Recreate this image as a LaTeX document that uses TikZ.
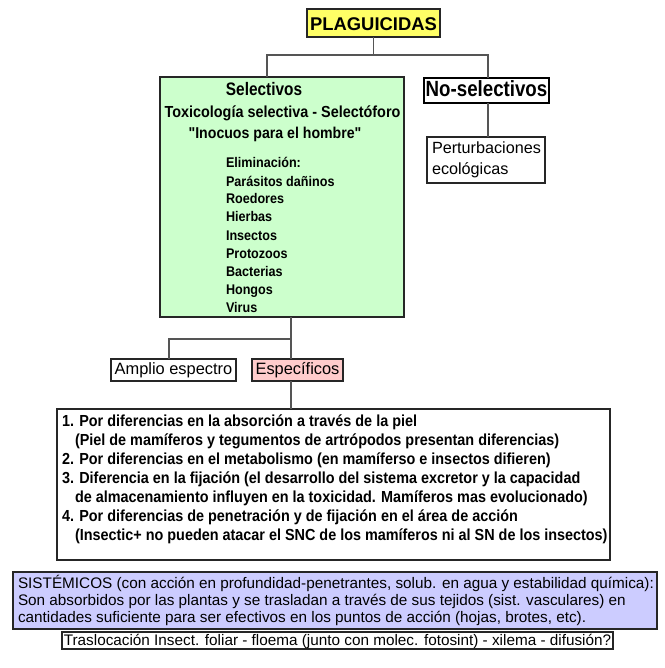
\documentclass[tikz,border=0pt]{standalone}
\usepackage{fontspec}
\setmainfont{Liberation Sans}
\newfontfamily\narr[FakeStretch=0.9]{Liberation Sans}
\newfontfamily\narrb[FakeStretch=0.85]{Liberation Sans}
\definecolor{cyel}{HTML}{FFFF66}
\definecolor{cgreen}{HTML}{CCFFCC}
\definecolor{cpink}{HTML}{FFCCCC}
\definecolor{clav}{HTML}{CCCCFF}
\definecolor{cline}{HTML}{555555}
\tikzset{
  box/.style={draw=black!85, line width=1.1pt, inner sep=0pt, outer sep=0pt},
  conn/.style={draw=cline, line width=1.3pt},
  txt/.style={inner sep=0pt, outer sep=0pt, text height=11pt, text depth=3pt},
  bnar/.style={txt, font=\narr\bfseries\fontsize{16}{19}\selectfont},
  lst/.style={txt, font=\narr\bfseries\fontsize{14}{17}\selectfont},
  reg/.style={txt, font=\fontsize{15.3}{17}\selectfont},
  lab/.style={txt, font=\fontsize{16.4}{19}\selectfont, text height=12pt, text depth=3.5pt},
}
\begin{document}
\begin{tikzpicture}[x=1pt,y=-1pt]
\useasboundingbox (0,0) rectangle (664,668);
% boxes
\node[box, fill=cyel, minimum width=133pt, minimum height=28pt] (plag) at (373.5,23) {};
\node[txt, font=\bfseries\fontsize{18.4}{21}\selectfont, text height=13pt, text depth=0pt] (plagt) at (373.5,24) {PLAGUICIDAS};
\node[box, fill=cgreen, minimum width=244pt, minimum height=240pt] (sel) at (282,197) {};
\node[txt, font=\narrb\bfseries\fontsize{18.1}{21}\selectfont, text height=13pt, text depth=4pt] (selt) at (264,91) {Selectivos};
\node[bnar] (tox) at (282.5,114) {Toxicología selectiva - Selectóforo};
\node[bnar, font=\narr\bfseries\fontsize{15.7}{19}\selectfont] (inoc) at (275,135) {"Inocuos para el hombre"};
\foreach \t [count=\i from 0] in {Eliminación:,Parásitos dañinos,Roedores,Hierbas,Insectos,Protozoos,Bacterias,Hongos,Virus}
  \node[lst, anchor=west] (el\i) at (226,164+18*\i) {\t};
\node[box, draw=black, minimum width=125pt, minimum height=25pt] (nosel) at (486.5,90.5) {};
\node[txt, font=\narrb\bfseries\fontsize{22}{25}\selectfont, text height=15.5pt, text depth=4.5pt] (noselt) at (486.5,91) {No-selectivos};
\node[box, minimum width=118pt, minimum height=46pt] (pert) at (486,160) {};
\node[lab, anchor=west, font=\fontsize{16.2}{19}\selectfont] (pert1) at (432,149) {Perturbaciones};
\node[lab, anchor=west, font=\fontsize{16.2}{19}\selectfont] (pert2) at (432,170) {ecológicas};
\node[box, minimum width=125pt, minimum height=22pt] (amp) at (173.5,370) {};
\node[lab] (ampt) at (173.5,370.5) {Amplio espectro};
\node[box, fill=cpink, minimum width=91pt, minimum height=22pt] (esp) at (297.5,370) {};
\node[lab] (espt) at (297.5,370.5) {Específicos};
\node[box, minimum width=553pt, minimum height=151pt] (big) at (333.5,484.5) {};
\node[bnar, anchor=west] (b1) at (62,422) {1. Por diferencias en la absorción a través de la piel};
\node[bnar, anchor=west] (b2) at (75,441) {(Piel de mamíferos y tegumentos de artrópodos presentan diferencias)};
\node[bnar, anchor=west] (b3) at (62,460) {2. Por diferencias en el metabolismo (en mamíferso e insectos difieren)};
\node[bnar, anchor=west] (b4) at (62,479) {3. Diferencia en la fijación (el desarrollo del sistema excretor y la capacidad};
\node[bnar, anchor=west] (b5) at (75,498) {de almacenamiento influyen en la toxicidad. Mamíferos mas evolucionado)};
\node[bnar, anchor=west] (b6) at (62,517) {4. Por diferencias de penetración y de fijación en el área de acción};
\node[bnar, anchor=west] (b7) at (75,536) {(Insectic+ no pueden atacar el SNC de los mamíferos ni al SN de los insectos)};
\node[box, fill=clav, minimum width=644pt, minimum height=57pt] (sist) at (335,600.5) {};
\node[reg, anchor=west] (s1) at (18,584) {SISTÉMICOS (con acción en profundidad-penetrantes, solub. en agua y estabilidad química):};
\node[reg, anchor=west] (s2) at (18,601) {Son absorbidos por las plantas y se trasladan a través de sus tejidos (sist. vasculares) en};
\node[reg, anchor=west] (s3) at (18,618) {cantidades suficiente para ser efectivos en los puntos de acción (hojas, brotes, etc).};
\node[box, fill=white, minimum width=551pt, minimum height=17pt] (tras) at (337.5,640.5) {};
\node[reg] (trast) at (337.5,641) {Traslocación Insect. foliar - floema (junto con molec. fotosint) - xilema - difusión?};
% connectors
\coordinate (j1) at (373.5,55);
\coordinate (j2) at (291,339);
\draw[conn] (plag.south) -- (j1);
\draw[conn] (j1) -| ([xshift=-15pt]sel.north);
\draw[conn] (j1) -| ([xshift=1.5pt]nosel.north);
\draw[conn] ([xshift=1.5pt]nosel.south) -- ([xshift=2pt]pert.north);
\draw[conn] ([xshift=9pt]sel.south) -- (j2) -- ([xshift=-6.5pt]esp.north);
\draw[conn] (j2) -| ([xshift=-4.5pt]amp.north);
\draw[conn] ([xshift=-6.5pt]esp.south) -- (big.north -| j2);
\end{tikzpicture}
\end{document}
